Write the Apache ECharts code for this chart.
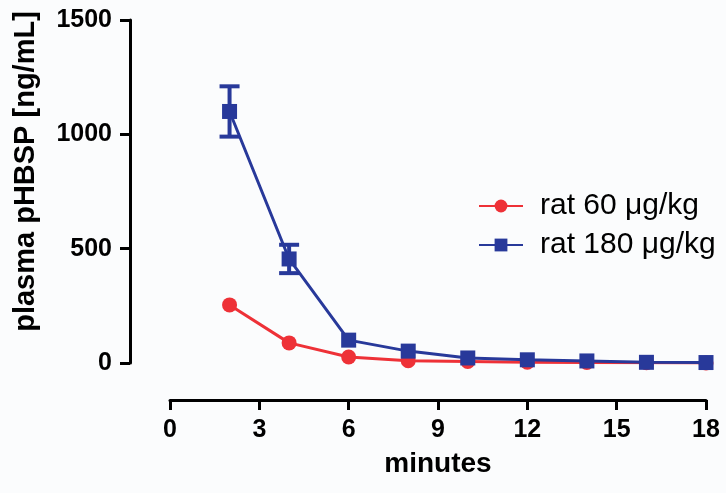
<!DOCTYPE html>
<html>
<head>
<meta charset="UTF-8">
<title>plasma pHBSP</title>
<script src="https://cdn.jsdelivr.net/npm/echarts@6/dist/echarts.min.js"></script>
<style>
  html, body { margin: 0; padding: 0; background: #fbfcfd; }
  #chart { width: 726px; height: 493px; }
</style>
</head>
<body>
<div id="chart"></div>
<script>
var minutes = [2, 4, 6, 8, 10, 12, 14, 16, 18];
var rat60 = [254, 88, 26, 10, 7, 3, 2, 1, 0];
var rat180 = [1100, 455, 100, 52, 22, 14, 9, 3, 2];
var rat180Err = [110, 62, 0, 0, 0, 0, 0, 0, 0];
var xTicks = [0, 3, 6, 9, 12, 15, 18];
var yTicks = [0, 500, 1000, 1500];

var font = 'Liberation Sans, Arial, Helvetica, sans-serif';
var red = '#ee3137';
var blue = '#28399a';

var chart = echarts.init(document.getElementById('chart'));

var errData = [];
for (var i = 0; i < minutes.length; i++) {
  if (rat180Err[i] > 0) {
    errData.push([minutes[i], rat180[i] - rat180Err[i], rat180[i] + rat180Err[i]]);
  }
}

function plain(v) { return String(v); }

chart.setOption({
  backgroundColor: '#fbfcfd',
  animation: false,
  textStyle: { fontFamily: font },
  grid: { left: 170, right: 20, top: 20, bottom: 130 },
  legend: {
    orient: 'vertical',
    left: 473,
    top: 186,
    itemWidth: 44,
    itemHeight: 16,
    itemGap: 9,
    textStyle: { fontSize: 30, color: '#000', fontFamily: font, lineHeight: 30, padding: [0, 0, 0, 12] },
    data: ['rat 60 μg/kg', 'rat 180 μg/kg']
  },
  xAxis: {
    type: 'value',
    min: xTicks[0],
    max: xTicks[xTicks.length - 1],
    interval: 3,
    offset: 37,
    name: 'minutes',
    nameLocation: 'middle',
    nameGap: 50,
    nameTextStyle: { fontSize: 28, fontWeight: 'bold', color: '#000', fontFamily: font },
    axisLine: { onZero: false, lineStyle: { color: '#000', width: 3 } },
    axisTick: { length: 10, lineStyle: { color: '#000', width: 3 } },
    axisLabel: { fontSize: 25, fontWeight: 'bold', color: '#000', margin: 18, fontFamily: font, formatter: plain },
    splitLine: { show: false }
  },
  yAxis: {
    type: 'value',
    min: yTicks[0],
    max: yTicks[yTicks.length - 1],
    interval: 500,
    offset: 40,
    name: 'plasma pHBSP [ng/mL]',
    nameLocation: 'middle',
    nameGap: 90,
    nameTextStyle: { fontSize: 29, fontWeight: 'bold', color: '#000', fontFamily: font, padding: [0, 0, 0, 40] },
    axisLine: { show: true, onZero: false, lineStyle: { color: '#000', width: 3 } },
    axisTick: { show: true, length: 10, lineStyle: { color: '#000', width: 3 } },
    axisLabel: { fontSize: 25, fontWeight: 'bold', color: '#000', margin: 18, fontFamily: font, formatter: plain },
    splitLine: { show: false }
  },
  series: [
    {
      name: 'rat 60 μg/kg',
      type: 'line',
      data: minutes.map(function (m, i) { return [m, rat60[i]]; }),
      symbol: 'circle',
      symbolSize: 15,
      itemStyle: { color: red },
      lineStyle: { color: red, width: 3 },
      z: 2
    },
    {
      name: 'rat 180 μg/kg',
      type: 'line',
      data: minutes.map(function (m, i) { return [m, rat180[i]]; }),
      symbol: 'rect',
      symbolSize: 15,
      itemStyle: { color: blue },
      lineStyle: { color: blue, width: 3 },
      z: 3
    },
    {
      type: 'custom',
      data: errData,
      z: 3,
      renderItem: function (params, api) {
        var lo = api.coord([api.value(0), api.value(1)]);
        var hi = api.coord([api.value(0), api.value(2)]);
        var w = 10;
        var st = { stroke: blue, lineWidth: 4 };
        return {
          type: 'group',
          children: [
            { type: 'line', shape: { x1: lo[0], y1: lo[1], x2: hi[0], y2: hi[1] }, style: st },
            { type: 'line', shape: { x1: lo[0] - w, y1: lo[1], x2: lo[0] + w, y2: lo[1] }, style: st },
            { type: 'line', shape: { x1: hi[0] - w, y1: hi[1], x2: hi[0] + w, y2: hi[1] }, style: st }
          ]
        };
      }
    }
  ]
});
</script>
</body>
</html>
